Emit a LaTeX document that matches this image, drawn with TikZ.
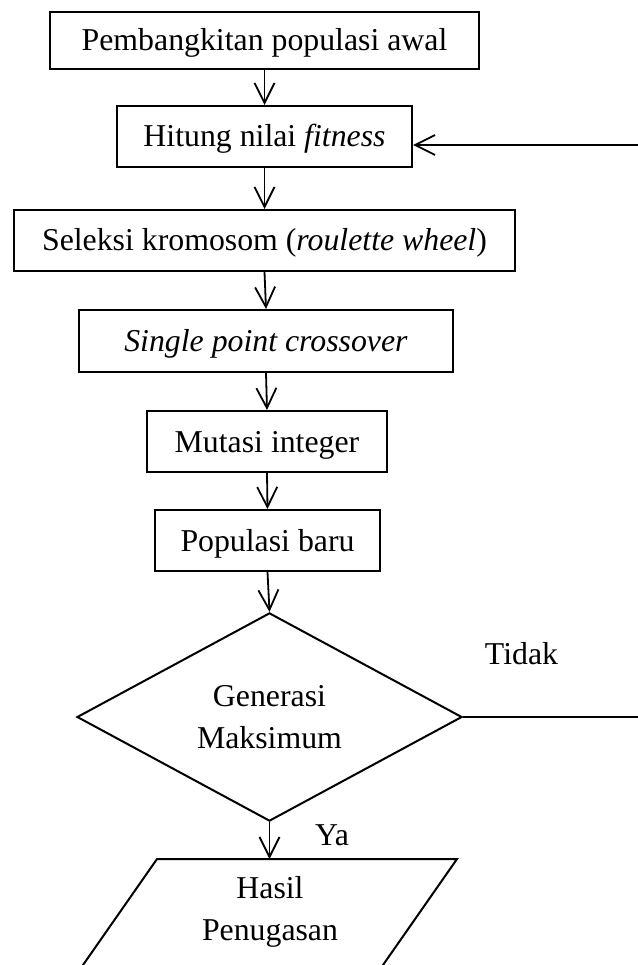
\documentclass[tikz,border=0pt]{standalone}
\usepackage{fontspec}
\setmainfont{Liberation Serif}
\usetikzlibrary{arrows.meta,shapes.geometric}
\begin{document}
\begin{tikzpicture}[x=1pt,y=-1pt,
  every node/.style={font=\fontsize{31.8}{42}\selectfont},
  procbox/.style={draw, line width=2pt, inner sep=0pt, text height=27pt, text depth=6pt},
  decbox/.style={diamond, draw, line width=2pt, inner sep=0pt, align=center},
  arr/.style={line width=1.8pt, -{Straight Barb[length=20pt,width=20pt]}},
  edge/.style={line width=2pt, line join=miter},
  ]
\useasboundingbox (0,0) rectangle (637,965);
\node[procbox, minimum width=429pt, minimum height=57pt] (b1) at (264.5,40.5) {Pembangkitan populasi awal};
\node[procbox, minimum width=295pt, minimum height=61pt] (b2) at (264.5,136.5) {Hitung nilai \textit{fitness}};
\node[procbox, minimum width=501pt, minimum height=61pt] (b3) at (264.5,240.5) {Seleksi kromosom (\textit{roulette wheel})};
\node[procbox, minimum width=374pt, minimum height=62pt] (b4) at (266,341) {\textit{Single point crossover}};
\node[procbox, minimum width=240pt, minimum height=61pt] (b5) at (267,441.5) {Mutasi integer};
\node[procbox, minimum width=225pt, minimum height=61pt] (b6) at (267.5,540.5) {Populasi baru};
\node[decbox, minimum width=385pt, minimum height=202pt] (dia) at (269.5,717) {Generasi\\Maksimum};
\node[align=center] (out) at (270,911.8) {Hasil\\Penugasan};
\coordinate (ptl) at (157,859);
\coordinate (ptr) at (457,859);
\coordinate (pbr) at (380.9,968);
\coordinate (pbl) at (80.9,968);
\draw[edge] (ptl) -- (ptr) -- (pbr) -- (pbl) -- cycle;
\node[anchor=base] (tidak) at (521.5,664.3) {Tidak};
\node[anchor=base] (ya) at (332,845.7) {Ya};
\coordinate (r1) at (642,717);
\coordinate (r2) at (642,145);
\draw[arr] (b1.south) -- (b1.south |- b2.north);
\draw[arr] (b2.south) -- (b2.south |- b3.north);
\draw[arr] (b3.south) -- (b4.north);
\draw[arr] (b4.south) -- (b5.north);
\draw[arr] (b5.south) -- (b6.north);
\draw[arr] (b6.south) -- (dia.north);
\draw[arr] (dia.south) -- (dia.south |- ptl);
\draw[arr] (dia.east) -- (r1) -- (r2) -- (b2.east |- r2);
\end{tikzpicture}
\end{document}
